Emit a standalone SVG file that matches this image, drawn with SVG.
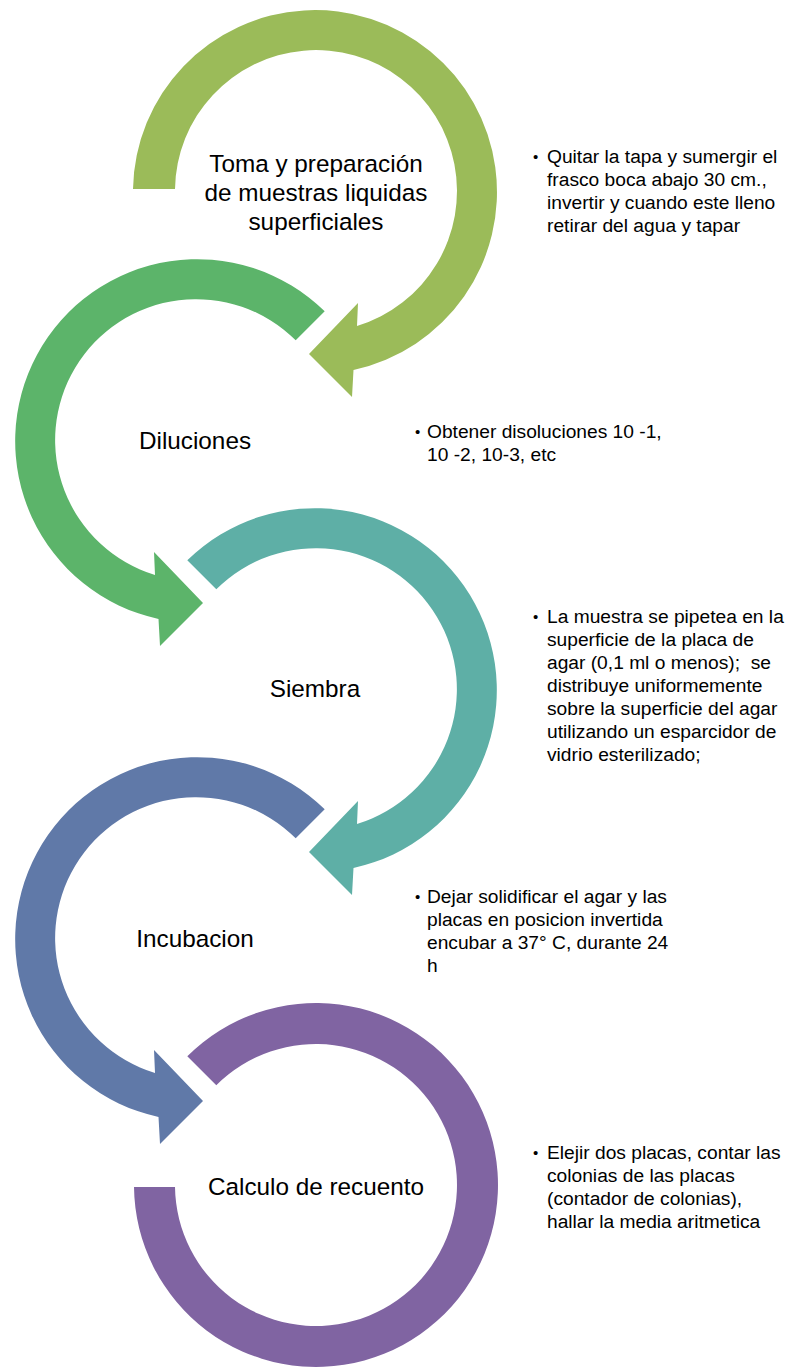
<svg xmlns="http://www.w3.org/2000/svg" width="788" height="1367" viewBox="0 0 788 1367">
<style>
.lbl{font-family:"Liberation Sans",Arial,sans-serif;font-size:24.3px;fill:#000;text-anchor:middle}
.side{font-family:"Liberation Sans",Arial,sans-serif;font-size:19.2px;fill:#000}
.bul{font-family:"Liberation Sans",Arial,sans-serif;font-size:15px;fill:#000}
</style>
<rect width="788" height="1367" fill="#fff"/>
<g id="connectors">
<path id="arrow1" fill="#9BBB59" d="M 133 189 A 182 182 0 1 1 353.5 370 L 352 397 L 309 354 L 358 303 L 357 326 A 141 141 0 1 0 175 189 Z"/>
<path id="arrow2" fill="#5CB46A" d="M 324.7 311.3 A 182 182 0 1 0 158.5 619 L 160 646 L 203 603 L 154 552 L 155 575 A 141 141 0 1 1 295.7 340.3 Z"/>
<path id="arrow3" fill="#5EAFA6" d="M 187.3 560.3 A 182 182 0 1 1 353.5 868 L 352 895 L 309 852 L 358 801 L 357 824 A 141 141 0 1 0 216.3 589.3 Z"/>
<path id="arrow4" fill="#6079A8" d="M 324.7 809.3 A 182 182 0 1 0 158.5 1117 L 160 1144 L 203 1101 L 154 1050 L 155 1073 A 141 141 0 1 1 295.7 838.3 Z"/>
<path id="arrow5" fill="#8064A2" d="M 187.3 1056.3 A 182 182 0 1 1 134 1187 L 175 1187 A 141 141 0 1 0 216.3 1085.3 Z"/>
</g>
<g id="node1">
<text class="lbl" x="316" y="172">Toma y preparación</text>
<text class="lbl" x="316" y="201">de muestras liquidas</text>
<text class="lbl" x="316" y="230">superficiales</text>
</g>
<g id="note1">
<text class="bul" x="533" y="162">•</text>
<text class="side" x="547" y="163">Quitar la tapa y sumergir el</text>
<text class="side" x="547" y="186">frasco boca abajo 30 cm.,</text>
<text class="side" x="547" y="209">invertir y cuando este lleno</text>
<text class="side" x="547" y="232">retirar del agua y tapar</text>
</g>
<g id="node2">
<text class="lbl" x="195" y="449">Diluciones</text>
</g>
<g id="note2">
<text class="bul" x="415" y="437">•</text>
<text class="side" x="427" y="438">Obtener disoluciones 10 -1,</text>
<text class="side" x="427" y="461">10 -2, 10-3, etc</text>
</g>
<g id="node3">
<text class="lbl" x="315" y="697">Siembra</text>
</g>
<g id="note3">
<text class="bul" x="533" y="622">•</text>
<text class="side" x="547" y="623">La muestra se pipetea en la</text>
<text class="side" x="547" y="646">superficie de la placa de</text>
<text class="side" x="547" y="669" xml:space="preserve">agar (0,1 ml o menos);  se</text>
<text class="side" x="547" y="692">distribuye uniformemente</text>
<text class="side" x="547" y="715">sobre la superficie del agar</text>
<text class="side" x="547" y="738">utilizando un esparcidor de</text>
<text class="side" x="547" y="761">vidrio esterilizado;</text>
</g>
<g id="node4">
<text class="lbl" x="195" y="947">Incubacion</text>
</g>
<g id="note4">
<text class="bul" x="415" y="902">•</text>
<text class="side" x="427" y="903">Dejar solidificar el agar y las</text>
<text class="side" x="427" y="926">placas en posicion invertida</text>
<text class="side" x="427" y="949">encubar a 37° C, durante 24</text>
<text class="side" x="427" y="972">h</text>
</g>
<g id="node5">
<text class="lbl" x="316" y="1195">Calculo de recuento</text>
</g>
<g id="note5">
<text class="bul" x="533" y="1158">•</text>
<text class="side" x="547" y="1159">Elejir dos placas, contar las</text>
<text class="side" x="547" y="1182">colonias de las placas</text>
<text class="side" x="547" y="1205">(contador de colonias),</text>
<text class="side" x="547" y="1228">hallar la media aritmetica</text>
</g>
</svg>
